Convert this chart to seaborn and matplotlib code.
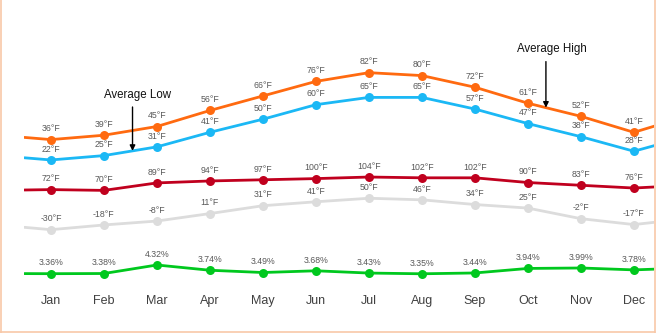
import numpy as np
import pandas as pd
import matplotlib
matplotlib.use("Agg")
import matplotlib.pyplot as plt
from matplotlib import font_manager
from matplotlib.lines import Line2D
import seaborn as sns

months = ["Jan", "Feb", "Mar", "Apr", "May", "Jun", "Jul", "Aug", "Sep", "Oct", "Nov", "Dec"]
avg_high = [36, 39, 45, 56, 66, 76, 82, 80, 72, 61, 52, 41]
avg_low = [22, 25, 31, 41, 50, 60, 65, 65, 57, 47, 38, 28]
record_high = [72, 70, 89, 94, 97, 100, 104, 102, 102, 90, 83, 76]
record_low = [-30, -18, -8, 11, 31, 41, 50, 46, 34, 25, -2, -17]
precip = [3.36, 3.38, 4.32, 3.74, 3.49, 3.68, 3.43, 3.35, 3.44, 3.94, 3.99, 3.78]

sns.set_theme(style="white")
names = {f.name for f in font_manager.fontManager.ttflist}
narrow = "Liberation Sans Narrow" if "Liberation Sans Narrow" in names else "Liberation Sans"
plt.rcParams["font.family"] = [narrow, "DejaVu Sans"]

W, H = 659, 333
fig = plt.figure(figsize=(W / 100, H / 100), dpi=100)
fig.patch.set_facecolor("white")

# axes layout in pixels
left_px, right_px = 24.4, 654.0
top_px, bot_px = 20.0, 288.0
rect = [left_px / W, 1 - bot_px / H, (right_px - left_px) / W, (bot_px - top_px) / H]
ax1 = fig.add_axes(rect)
ax2 = fig.add_axes(rect, sharex=ax1)
ax3 = fig.add_axes(rect, sharex=ax1)
for a in (ax2, ax3):
    a.patch.set_alpha(0)

x = np.arange(len(months))
xlim = (-0.5, (right_px - 50.9) / 53.0)

def tails(vals):
    # half-step end pieces mirroring the neighbouring segment
    v = np.asarray(vals, float)
    xe = np.concatenate([[-0.5], x, [len(x) - 0.5]])
    ve = np.concatenate([[v[0] + 0.5 * (v[1] - v[0])], v, [v[-1] + 0.5 * (v[-2] - v[-1])]])
    return xe, ve

label_color = "#595959"

def draw(ax, vals, color, fmt):
    xe, ve = tails(vals)
    sns.lineplot(x=xe, y=ve, ax=ax, color=color, linewidth=2.0, sort=False, legend=False)
    sns.scatterplot(x=x, y=vals, ax=ax, color=color, s=42, edgecolor=color, linewidth=0, legend=False, zorder=3)
    for xi, v in zip(x, vals):
        ax.annotate(fmt(v), (xi, v), xytext=(0, 4.5), textcoords="offset points",
                    ha="center", va="bottom", fontsize=6.3, color=label_color)

degf = lambda v: f"{v}°F"
draw(ax1, avg_high, "#FF6A10", degf)
draw(ax1, avg_low, "#1BB8F5", degf)
draw(ax2, record_high, "#C0001E", degf)
draw(ax2, record_low, "#DCDCDC", degf)
draw(ax3, precip, "#00C81E", lambda v: f"{v:.2f}%")

ax1.set_ylim(-66.0, 118.2)
ax2.set_ylim(-178.4, 503.6)
ax3.set_ylim(1.781, 31.36)

for a in (ax1, ax2, ax3):
    a.set_xlim(*xlim)
    a.set_yticks([])
    a.set_ylabel("")
    for s in a.spines.values():
        s.set_visible(False)
for a in (ax2, ax3):
    a.tick_params(axis="x", which="both", bottom=False, labelbottom=False)

ax1.set_xticks(x)
ax1.set_xticklabels(months, fontsize=9, color="#404040")
ax1.tick_params(axis="x", length=0, pad=5)

# annotations
ann_font = dict(family=["Liberation Sans", "DejaVu Sans"], fontsize=8.3, color="#111111")
ax1.text(1.64, 66.7, "Average Low", ha="center", va="center", **ann_font)
ax1.annotate("", xy=(1.54, np.interp(1.54, x, avg_low)), xytext=(1.54, 58.4),
             arrowprops=dict(arrowstyle="-|>", color="black", lw=1.0, mutation_scale=8,
                             shrinkA=0, shrinkB=0))
ax1.text(9.45, 98.1, "Average High", ha="center", va="center", **ann_font)
ax1.annotate("", xy=(9.34, np.interp(9.34, x, avg_high)), xytext=(9.34, 89.6),
             arrowprops=dict(arrowstyle="-|>", color="black", lw=1.0, mutation_scale=8,
                             shrinkA=0, shrinkB=0))

# peach frame (left, right, bottom)
border = "#F8C8A8"
fig.add_artist(Line2D([1 / W, 1 / W], [0, 1], transform=fig.transFigure, color=border, lw=1.2))
fig.add_artist(Line2D([654.5 / W, 654.5 / W], [0, 1], transform=fig.transFigure, color=border, lw=1.2))
fig.add_artist(Line2D([0, 654.5 / W], [1.5 / H, 1.5 / H], transform=fig.transFigure, color=border, lw=1.2))

fig.savefig("out.png", dpi=100, facecolor="white")
